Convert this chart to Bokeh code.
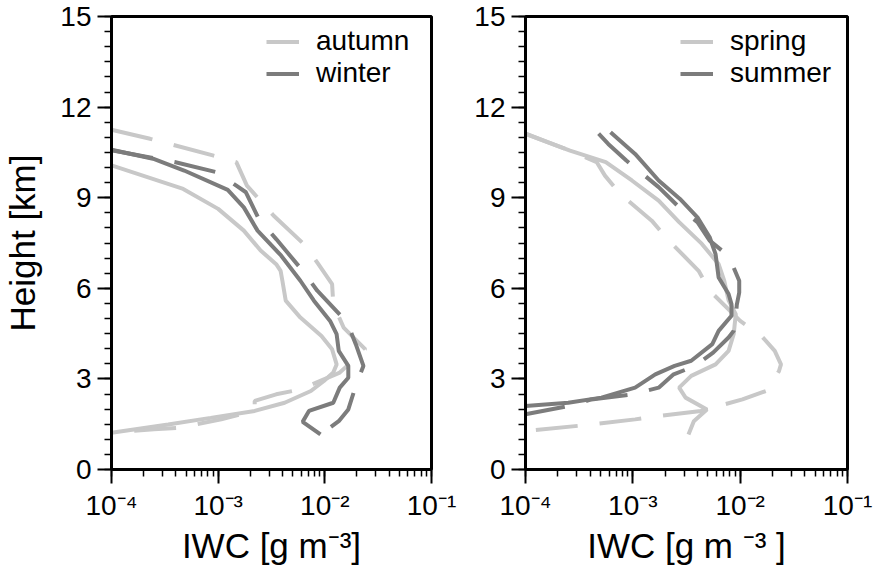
from bokeh.plotting import figure
from bokeh.layouts import row
from bokeh.models import FixedTicker, CustomJSTickFormatter, Range1d, Legend, LegendItem
from bokeh.embed import file_html
from bokeh.resources import INLINE

# ---------------- data (IWC in g m^-3, height in km) ----------------
autumn_solid_iwc = [1.0e-4, 4.7e-4, 1.0e-3, 1.74e-3, 2.5e-3, 3.5e-3, 3.85e-3, 4.0e-3, 4.3e-3, 5.9e-3,
                    9.3e-3, 1.17e-2, 1.29e-2, 1.2e-2, 9.8e-3, 7.4e-3, 4.2e-3, 2.2e-3, 8.5e-4, 3.4e-4, 1.0e-4]
autumn_solid_h = [10.07, 9.29, 8.63, 7.91, 7.25, 6.80, 6.58, 6.25, 5.59, 5.03,
                  4.42, 3.98, 3.48, 3.21, 2.93, 2.60, 2.21, 1.94, 1.71, 1.49, 1.22]

autumn_dash_iwc = [1.0e-4, 2.3e-4, 8.9e-4, 1.48e-3, 1.86e-3, 2.4e-3, 3.3e-3, 6.6e-3, 8.7e-3, 1.17e-2,
                   1.2e-2, 1.5e-2, 2.4e-2, 1.38e-2, 5.9e-3, 3.5e-3, 2.2e-3, 2.2e-3, 1.86e-3, 1.07e-3,
                   4.2e-4, 2.5e-4, 1.0e-4]
autumn_dash_h = [11.25, 10.95, 10.40, 10.18, 9.40, 8.96, 8.41, 7.41, 6.80, 6.14,
                 5.48, 4.70, 3.98, 3.21, 2.65, 2.49, 2.27, 1.99, 1.88, 1.66,
                 1.38, 1.33, 1.22]

winter_solid_iwc = [1.0e-4, 2.45e-4, 4.8e-4, 1.23e-3, 1.74e-3, 2.34e-3, 3.9e-3, 5.9e-3, 7.9e-3, 1.12e-2,
                    1.29e-2, 1.35e-2, 1.66e-2, 1.66e-2, 1.38e-2, 1.2e-2, 7.1e-3, 6.2e-3, 9.1e-3]
winter_solid_h = [10.59, 10.29, 9.90, 9.26, 8.68, 7.91, 7.08, 6.25, 5.59, 4.92,
                  4.48, 3.93, 3.43, 3.04, 2.71, 2.21, 1.94, 1.58, 1.16]

winter_dash_iwc = [1.0e-4, 3.9e-4, 9.5e-4, 1.48e-3, 1.82e-3, 2.4e-3, 3.5e-3, 6.2e-3, 8.5e-3, 1.62e-2,
                   1.95e-2, 2.3e-2, 1.95e-2, 1.66e-2, 1.35e-2, 9.1e-3]
winter_dash_h = [10.57, 10.18, 9.85, 9.40, 9.18, 8.30, 7.63, 6.58, 5.92, 4.87,
                 4.15, 3.43, 2.77, 1.99, 1.60, 1.16]

spring_solid_iwc = [1.0e-4, 1.6e-4, 2.6e-4, 5.6e-4, 9.8e-4, 1.74e-3, 2.7e-3, 4.4e-3, 6.3e-3, 7.1e-3,
                    7.8e-3, 9.1e-3, 8.7e-3, 7.8e-3, 5.9e-3, 3.5e-3, 2.7e-3, 3.1e-3, 4.9e-3, 3.7e-3, 3.3e-3]
spring_solid_h = [11.12, 10.84, 10.56, 10.18, 9.57, 8.90, 8.19, 7.47, 6.80, 6.25,
                  5.60, 5.14, 4.48, 3.93, 3.48, 3.10, 2.71, 2.38, 1.99, 1.60, 1.16]

spring_dash_iwc = [1.0e-4, 2.6e-4, 4.6e-4, 5.5e-4, 7.6e-4, 1.5e-3, 2.1e-3, 4.1e-3, 5.2e-3, 1.0e-2,
                   1.58e-2, 2.1e-2, 2.4e-2, 2.3e-2, 1.74e-2, 1.05e-2, 7.2e-3, 4.3e-3, 1.74e-3, 1.05e-3,
                   4.1e-4, 1.0e-4]
spring_dash_h = [11.12, 10.56, 10.18, 9.73, 9.13, 8.24, 7.63, 6.58, 5.92, 4.92,
                 4.42, 3.93, 3.48, 3.26, 2.60, 2.32, 2.16, 1.94, 1.77, 1.66,
                 1.49, 1.27]

summer_solid_iwc = [6.2e-4, 1.05e-3, 1.74e-3, 2.75e-3, 4.0e-3, 5.2e-3, 5.9e-3, 6.3e-3, 7.8e-3, 8.3e-3,
                    8.3e-3, 6.3e-3, 5.5e-3, 3.5e-3, 2.45e-3, 1.62e-3, 1.05e-3, 5.1e-4, 2.5e-4, 1.0e-4]
summer_solid_h = [11.17, 10.45, 9.57, 8.96, 8.35, 7.69, 7.13, 6.36, 5.81, 5.48,
                  5.09, 4.59, 4.15, 3.60, 3.43, 3.15, 2.71, 2.38, 2.21, 2.10]

summer_dash_iwc = [4.8e-4, 5.9e-4, 8.7e-4, 1.74e-3, 2.6e-3, 4.0e-3, 5.2e-3, 7.1e-3, 8.3e-3, 9.8e-3,
                   9.8e-3, 9.3e-3, 9.1e-3, 8.7e-3, 7.8e-3, 5.6e-3, 3.8e-3, 2.4e-3, 1.74e-3, 1.0e-3,
                   4.1e-4, 2.5e-4, 1.0e-4]
summer_dash_h = [11.12, 10.78, 10.23, 9.35, 8.74, 8.19, 7.58, 7.19, 6.86, 6.25,
                 5.86, 5.45, 5.03, 4.59, 4.37, 3.87, 3.43, 3.15, 2.71, 2.49,
                 2.32, 2.10, 1.83]

x_ticks = [1e-4, 1e-3, 1e-2, 1e-1]
x_tick_labels = ["10\u207b\u2074", "10\u207b\u00b3", "10\u207b\u00b2", "10\u207b\u00b9"]
x_minor = [m * d for d in [1e-4, 1e-3, 1e-2] for m in range(1, 10)] + [1e-1]
y_ticks = [0, 3, 6, 9, 12, 15]
y_minor = [i * 0.5 for i in range(31)]

LIGHT = "#c8c8c8"
DARK = "#7c7c7c"
FONT = "Liberation Sans"
DASH = "42 22"
LW = 4


def make_panel(width, border_left, border_right, ylabel, xlabel, series, labels):
    p = figure(width=width, height=568, x_axis_type="log",
               x_range=Range1d(1e-4, 1e-1), y_range=Range1d(0, 15),
               output_backend="svg", toolbar_location=None,
               min_border_left=border_left, min_border_right=border_right,
               min_border_top=16, min_border_bottom=99)
    p.grid.visible = False
    p.outline_line_color = "black"
    p.outline_line_width = 3
    p.background_fill_color = "white"
    p.border_fill_color = "white"

    p.xaxis.ticker = FixedTicker(ticks=x_ticks, minor_ticks=x_minor)
    p.xaxis.formatter = CustomJSTickFormatter(
        args=dict(vals=x_ticks, labs=x_tick_labels),
        code="""
        for (let i = 0; i < vals.length; i++) {
            if (Math.abs(Math.log10(tick) - Math.log10(vals[i])) < 1e-6) return labs[i];
        }
        return '';
        """)
    p.yaxis.ticker = FixedTicker(ticks=y_ticks, minor_ticks=y_minor)

    for ax in (p.xaxis[0], p.yaxis[0]):
        ax.axis_line_width = 3
        ax.major_tick_line_width = 2
        ax.minor_tick_line_width = 1.5
        ax.major_tick_in = 0
        ax.major_tick_out = 14
        ax.minor_tick_in = 0
        ax.minor_tick_out = 7
        ax.major_label_text_font = FONT
        ax.major_label_text_font_size = "28px"
        ax.major_label_text_color = "black"
        ax.major_label_standoff = 6
        ax.axis_label_text_font = FONT
        ax.axis_label_text_font_size = "35px"
        ax.axis_label_text_font_style = "normal"
        ax.axis_label_text_color = "black"
        ax.axis_label_standoff = 2
    p.xaxis.axis_label = xlabel
    if ylabel:
        p.yaxis.axis_label = ylabel
        p.yaxis.axis_label_standoff = 15

    (l_iwc_s, l_h_s, l_iwc_d, l_h_d), (d_iwc_s, d_h_s, d_iwc_d, d_h_d) = series
    p.line(l_iwc_s, l_h_s, line_color=LIGHT, line_width=LW)
    rl = p.line(l_iwc_d, l_h_d, line_color=LIGHT, line_width=LW, line_dash=DASH)
    p.line(d_iwc_s, d_h_s, line_color=DARK, line_width=LW)
    rd = p.line(d_iwc_d, d_h_d, line_color=DARK, line_width=LW, line_dash=DASH)

    legend = Legend(items=[LegendItem(label=labels[0], renderers=[rl]),
                           LegendItem(label=labels[1], renderers=[rd])],
                    location=(155, 380), padding=0, margin=0, spacing=0,
                    glyph_width=33, glyph_height=31, label_height=31,
                    label_standoff=17,
                    label_text_font=FONT, label_text_font_size="28px",
                    label_text_color="black",
                    background_fill_alpha=0, border_line_alpha=0)
    p.add_layout(legend)
    return p


p1 = make_panel(462, 110, 31, "Height [km]", "IWC [g m\u207b\u00b3]",
                [(autumn_solid_iwc, autumn_solid_h, autumn_dash_iwc, autumn_dash_h),
                 (winter_solid_iwc, winter_solid_h, winter_dash_iwc, winter_dash_h)],
                ["autumn", "winter"])
p2 = make_panel(411, 63, 26, None, "IWC [g m \u207b\u00b3 ]",
                [(spring_solid_iwc, spring_solid_h, spring_dash_iwc, spring_dash_h),
                 (summer_solid_iwc, summer_solid_h, summer_dash_iwc, summer_dash_h)],
                ["spring", "summer"])

layout = row(p1, p2)
open("out.html", "w").write(file_html(layout, INLINE))
